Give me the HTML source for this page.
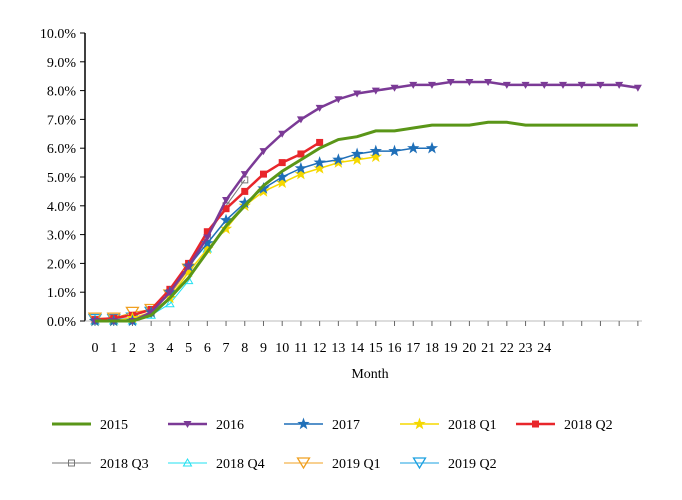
<!DOCTYPE html>
<html><head><meta charset="utf-8"><style>
body{margin:0;background:#fff}
svg{display:block;font-family:"Liberation Serif",serif}
</style></head><body>
<svg id="chart" width="682" height="500">
<g id="axes"></g><g id="series"></g><g id="legend"></g>
</svg>
<script>
const categories=[];for(let i=0;i<30;i++)categories.push(i);
const xTickLabels=["0","1","2","3","4","5","6","7","8","9","10","11","12","13","14","15","16","17","18","19","20","21","22","23","24"];
const yTicks=[0,1,2,3,4,5,6,7,8,9,10];
const s2015=[0,0,0,0.2,0.8,1.5,2.4,3.3,4.0,4.7,5.2,5.6,6.0,6.3,6.4,6.6,6.6,6.7,6.8,6.8,6.8,6.9,6.9,6.8,6.8,6.8,6.8,6.8,6.8,6.8];
const s2016=[0,0,0,0.3,1.0,1.9,2.9,4.2,5.1,5.9,6.5,7.0,7.4,7.7,7.9,8.0,8.1,8.2,8.2,8.3,8.3,8.3,8.2,8.2,8.2,8.2,8.2,8.2,8.2,8.1];
const s2017=[0,0,0,0.3,1.0,1.9,2.7,3.5,4.1,4.6,5.0,5.3,5.5,5.6,5.8,5.9,5.9,6.0,6.0];
const s2018q1=[0,0,0.1,0.3,0.8,1.7,2.5,3.2,4.0,4.5,4.8,5.1,5.3,5.5,5.6,5.7];
const s2018q2=[0.05,0.1,0.2,0.4,1.1,2.0,3.1,3.9,4.5,5.1,5.5,5.8,6.2];
const s2018q3=[0,0,0.1,0.3,1.0,1.8,2.9,4.0,4.9];
const s2018q4=[0,0,0,0.2,0.6,1.4,2.5];
const s2019q1=[0.1,0.1,0.3,0.4,0.9,1.8];
const s2019q2=[0.05,0.05,0.1,0.3];
const NS="http://www.w3.org/2000/svg";
const X0=95,DX=18.72,Y0=321,DY=28.8;
const xS=i=>X0+i*DX, yS=v=>Y0-v*DY;
function mk(t,a,p){const e=document.createElementNS(NS,t);for(const k in a)e.setAttribute(k,a[k]);p.appendChild(e);return e;}
const ax=document.getElementById('axes');
const yl=mk('line',{x1:85,y1:33,x2:85,y2:321,stroke:'#000','stroke-width':1.5},ax);


const xl=mk('line',{x1:85,y1:321,x2:642,y2:321,stroke:'#bbb','stroke-width':1},ax);


yTicks.forEach(v=>{
 mk('line',{x1:80,y1:yS(v),x2:85,y2:yS(v),stroke:'#000'},ax);
 const t=mk('text',{x:76,y:yS(v)+5,'text-anchor':'end','font-size':14},ax);t.textContent=v.toFixed(1)+'%';
 
 
});
categories.forEach(i=>{
 mk('line',{x1:xS(i),y1:321,x2:xS(i),y2:326,stroke:'#666'},ax);
 if(i<xTickLabels.length){const t=mk('text',{x:xS(i),y:352,'text-anchor':'middle','font-size':14},ax);t.textContent=xTickLabels[i];
 
 }
});
const xt=mk('text',{x:370,y:378,'text-anchor':'middle','font-size':14},ax);xt.textContent='Month';



function marker(g,type,x,y,c){
 if(type==='tri-down')mk('path',{d:`M${x-4},${y-3}L${x+4},${y-3}L${x},${y+4}Z`,fill:c},g);
 else if(type==='star'){let d='';for(let k=0;k<10;k++){const r=k%2?2.6:6.5,a=-Math.PI/2+k*Math.PI/5;d+=(k?'L':'M')+(x+r*Math.cos(a)).toFixed(1)+','+(y+r*Math.sin(a)).toFixed(1);}mk('path',{d:d+'Z',fill:c},g);}
 else if(type==='square')mk('rect',{x:x-3.5,y:y-3.5,width:7,height:7,fill:c},g);
 else if(type==='open-square')mk('rect',{x:x-3,y:y-3,width:6,height:6,fill:'none',stroke:c},g);
 else if(type==='open-tri')mk('path',{d:`M${x},${y-4}L${x+4},${y+3}L${x-4},${y+3}Z`,fill:'none',stroke:c},g);
 else if(type==='open-tri-down')mk('path',{d:`M${x-6},${y-5}L${x+6},${y-5}L${x},${y+5}Z`,fill:'none',stroke:c,'stroke-width':1.3},g);
}
const seriesList=[
 {name:'2015',data:s2015,color:'#5a9618',w:3,m:null},
 {name:'2016',data:s2016,color:'#7b3a96',w:2.5,m:'tri-down'},
 {name:'2017',data:s2017,color:'#1f6fb8',w:1.5,m:'star'},
 {name:'2018 Q1',data:s2018q1,color:'#f5d800',w:1.5,m:'star'},
 {name:'2018 Q2',data:s2018q2,color:'#e8262b',w:2.5,m:'square'},
 {name:'2018 Q3',data:s2018q3,color:'#777',w:1,m:'open-square'},
 {name:'2018 Q4',data:s2018q4,color:'#22e0f0',w:1,m:'open-tri'},
 {name:'2019 Q1',data:s2019q1,color:'#f0a020',w:1,m:'open-tri-down'},
 {name:'2019 Q2',data:s2019q2,color:'#1aa0e0',w:1,m:'open-tri-down'}
];
const sg=document.getElementById('series');
seriesList.slice().reverse().forEach(s=>{
 const g=mk('g',{},sg);
 
 
 mk('polyline',{points:s.data.map((v,i)=>xS(i)+','+yS(v)).join(' '),fill:'none',stroke:s.color,'stroke-width':s.w},g);
 if(s.m)s.data.forEach((v,i)=>marker(g,s.m,xS(i),yS(v),s.color));
});
const lg=document.getElementById('legend');
const pos=[[52,424],[168,424],[284,424],[400,424],[516,424],[52,463],[168,463],[284,463],[400,463]];
seriesList.forEach((s,k)=>{
 const [x,y]=pos[k];const g=mk('g',{},lg);
 
 
 mk('line',{x1:x,y1:y,x2:x+39,y2:y,stroke:s.color,'stroke-width':s.w},g);
 if(s.m)marker(g,s.m,x+19.5,y,s.color);
 const t=mk('text',{x:x+48,y:y+5,'font-size':14},g);t.textContent=s.name;
});
</script>
</body></html>
